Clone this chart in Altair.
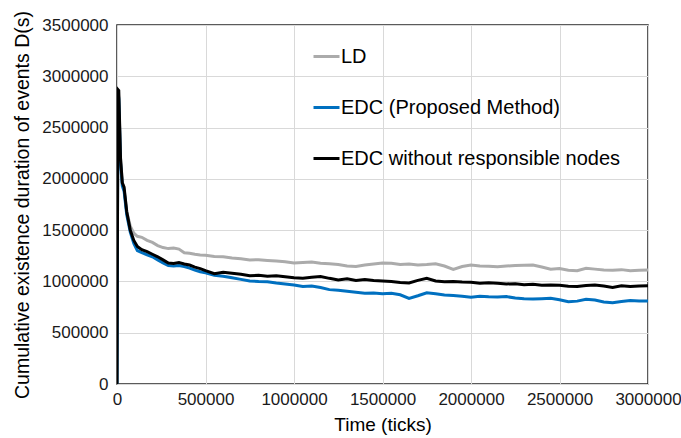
import altair as alt
import pandas as pd

x_ticks = [0, 5000, 10000, 20000, 30000, 40000, 55000, 75000, 95000, 115000,
           140000, 170000, 200000, 230000, 260000, 290000, 320000, 350000, 380000,
           410000, 440000, 470000, 500000,
           550000, 600000, 650000, 700000, 750000, 800000, 850000, 900000, 950000,
           1000000, 1050000, 1100000, 1150000, 1200000, 1250000, 1300000, 1350000,
           1400000, 1450000, 1500000, 1550000, 1600000, 1650000, 1700000, 1750000,
           1800000, 1850000, 1900000, 1950000, 2000000, 2050000, 2100000, 2150000,
           2200000, 2250000, 2300000, 2350000, 2400000, 2450000, 2500000, 2550000,
           2600000, 2650000, 2700000, 2750000, 2800000, 2850000, 2900000, 2950000,
           3000000]

ld = [0, 2850000, 2800000, 2200000, 1960000, 1900000, 1680000, 1540000, 1470000, 1440000,
      1430000, 1400000, 1380000, 1350000, 1330000, 1320000, 1325000, 1315000, 1280000,
      1275000, 1265000, 1258000, 1255000,
      1242000, 1240000, 1228000, 1220000, 1210000, 1212000, 1205000, 1198000, 1192000,
      1180000, 1185000, 1190000, 1178000, 1172000, 1165000, 1150000, 1145000,
      1160000, 1170000, 1180000, 1178000, 1165000, 1170000, 1160000, 1165000,
      1172000, 1150000, 1118000, 1145000, 1160000, 1150000, 1148000, 1144000,
      1150000, 1155000, 1158000, 1160000, 1140000, 1118000, 1125000, 1110000,
      1105000, 1128000, 1120000, 1112000, 1110000, 1115000, 1105000, 1108000,
      1111000]

edc = [0, 2850000, 2780000, 2150000, 1930000, 1880000, 1650000, 1480000, 1370000, 1300000,
       1280000, 1260000, 1240000, 1210000, 1180000, 1155000, 1150000, 1155000, 1145000,
       1130000, 1110000, 1095000, 1085000,
       1060000, 1050000, 1035000, 1020000, 1005000, 1000000, 997000, 985000, 975000,
       965000, 950000, 955000, 940000, 920000, 915000, 905000, 895000,
       885000, 888000, 880000, 884000, 870000, 835000, 860000, 890000,
       880000, 868000, 862000, 855000, 845000, 855000, 850000, 848000,
       852000, 838000, 832000, 828000, 832000, 835000, 822000, 802000,
       808000, 825000, 818000, 800000, 793000, 805000, 815000, 810000,
       808000]

edc_wo = [0, 2870000, 2860000, 2200000, 1960000, 1920000, 1680000, 1500000, 1400000, 1340000,
          1310000, 1290000, 1265000, 1240000, 1210000, 1180000, 1175000, 1185000, 1170000,
          1160000, 1140000, 1125000, 1105000,
          1075000, 1090000, 1080000, 1070000, 1055000, 1060000, 1050000, 1055000, 1045000,
          1035000, 1030000, 1040000, 1048000, 1030000, 1015000, 1025000, 1010000,
          1018000, 1008000, 1004000, 1000000, 990000, 985000, 1010000, 1030000,
          1005000, 998000, 1000000, 995000, 992000, 982000, 988000, 982000,
          975000, 978000, 968000, 972000, 962000, 966000, 962000, 952000,
          950000, 960000, 966000, 955000, 942000, 958000, 950000, 956000,
          958000]

series_names = ["LD", "EDC (Proposed Method)", "EDC without responsible nodes"]
series_colors = ["#ABABAB", "#0070C0", "#000000"]

assert len(x_ticks) == len(ld) == len(edc) == len(edc_wo)

rows = []
for name, vals in zip(series_names, [ld, edc, edc_wo]):
    for xv, yv in zip(x_ticks, vals):
        rows.append({"time": xv, "value": yv, "series": name})
df = pd.DataFrame(rows)

FONT = "Liberation Sans"

color = alt.Color(
    "series:N",
    scale=alt.Scale(domain=series_names, range=series_colors),
    legend=alt.Legend(
        title=None, orient="none", legendX=195, legendY=17,
        symbolType="stroke", symbolSize=676, symbolStrokeWidth=3,
        labelFontSize=20, labelFont=FONT, labelColor="#000000",
        labelOffset=0, rowPadding=26, labelLimit=400,
    ),
)

x_enc = alt.X(
    "time:Q",
    scale=alt.Scale(domain=[0, 3000000], nice=False),
    axis=alt.Axis(
        title="Time (ticks)", values=[0, 500000, 1000000, 1500000, 2000000, 2500000, 3000000],
        format="d", ticks=False, domain=False, labelPadding=7,
        labelFontSize=17, titleFontSize=19, labelFont=FONT, titleFont=FONT,
        titleFontWeight="normal", labelColor="#1a1a1a", titleColor="#000000",
        titlePadding=8, gridColor="#D9D9D9", gridWidth=1, labelFlush=False,
    ),
)
y_enc = alt.Y(
    "value:Q",
    scale=alt.Scale(domain=[0, 3500000], nice=False),
    axis=alt.Axis(
        title="Cumulative  existence duration of events D(s)",
        values=[0, 500000, 1000000, 1500000, 2000000, 2500000, 3000000, 3500000],
        format="d", ticks=False, domain=False, labelPadding=9,
        labelFontSize=17, titleFontSize=19.5, labelFont=FONT, titleFont=FONT,
        titleFontWeight="normal", labelColor="#1a1a1a", titleColor="#000000",
        titlePadding=9, gridColor="#D9D9D9", gridWidth=1,
    ),
)

layers = []
for name in series_names:
    layers.append(
        alt.Chart(df)
        .transform_filter(alt.datum.series == name)
        .mark_line(strokeWidth=3, clip=True)
        .encode(x=x_enc, y=y_enc, color=color, order="time:Q")
    )

chart = (
    alt.layer(*layers)
    .properties(
        width=531, height=359,
        autosize=alt.AutoSizeParams(type="none"),
        padding={"left": 117, "top": 25, "right": 33, "bottom": 54},
        background="white",
    )
    .configure_view(stroke="#262626", strokeWidth=1.5)
)

chart.save("out.html", embed_options={"renderer": "svg", "actions": False})
